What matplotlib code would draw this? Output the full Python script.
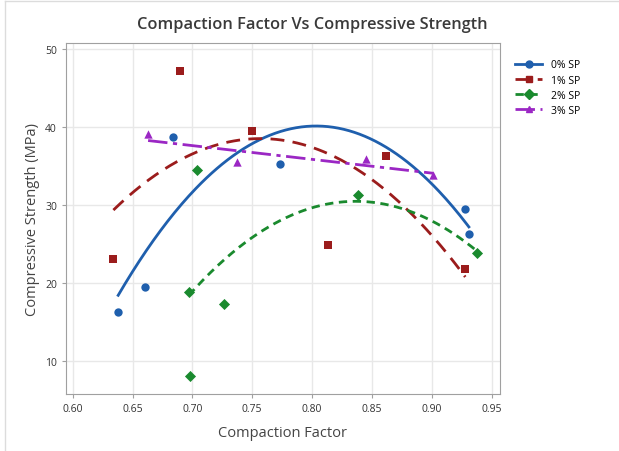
import numpy as np
import matplotlib.pyplot as plt
from matplotlib.lines import Line2D

plt.rcParams['font.family'] = ['Open Sans', 'DejaVu Sans']

# data
cf_0 = [0.638, 0.660, 0.684, 0.773, 0.928, 0.931]
cs_0 = [16.2, 19.5, 38.7, 35.2, 29.4, 26.2]

cf_1 = [0.634, 0.690, 0.750, 0.813, 0.862, 0.928]
cs_1 = [23.0, 47.2, 39.5, 24.8, 36.3, 21.8]

cf_2 = [0.697, 0.698, 0.704, 0.726, 0.838, 0.938]
cs_2 = [18.8, 8.1, 34.5, 17.3, 31.3, 23.8]

cf_3 = [0.663, 0.737, 0.845, 0.901]
cs_3 = [39.0, 35.5, 35.9, 33.8]

labels = ['0% SP', '1% SP', '2% SP', '3% SP']
colors = ['#1f5fad', '#9b1c1c', '#1a8a2e', '#9b27c4']
markers = ['o', 's', 'D', '^']
styles = ['-', (0, (5, 3)), (0, (3, 2)), (0, (7, 2, 1.5, 2))]
degrees = [2, 2, 2, 1]

fig = plt.figure(figsize=(6.19, 4.52), dpi=100)
ax = fig.add_axes([66 / 619, 1 - 395 / 452, 434 / 619, 351 / 452])

series = [(cf_0, cs_0), (cf_1, cs_1), (cf_2, cs_2), (cf_3, cs_3)]
handles = []
for (x, y), lab, c, m, ls, deg in zip(series, labels, colors, markers, styles, degrees):
    x = np.array(x)
    y = np.array(y)
    ax.scatter(x, y, color=c, marker=m, s=36 if m != 'D' else 32, zorder=3, linewidths=0)
    # fitted trend line
    coef = np.polyfit(x, y, deg)
    xs = np.linspace(x.min(), x.max(), 200)
    ax.plot(xs, np.polyval(coef, xs), color=c, linestyle=ls, linewidth=2, zorder=2)
    handles.append(Line2D([], [], color=c, linestyle=ls, linewidth=2, marker=m, markersize=5, label=lab))

ax.set_xlim(0.5944, 0.957)
ax.set_ylim(5.73, 50.73)
ax.set_xticks(np.arange(0.60, 0.951, 0.05))
ax.set_xticklabels(['0.60', '0.65', '0.70', '0.75', '0.80', '0.85', '0.90', '0.95'])
ax.set_yticks([10, 20, 30, 40, 50])
ax.grid(True, color='#e8e8e8', linewidth=1)
ax.set_axisbelow(True)
for s in ax.spines.values():
    s.set_color('#a0a0a0')
ax.tick_params(colors='#a0a0a0', labelcolor='#333333', labelsize=7.5, length=3, width=0.8)

ax.set_xlabel('Compaction Factor', fontsize=10.5, color='#444444', labelpad=8)
ax.set_ylabel('Compressive Strength (MPa)', fontsize=10.5, color='#444444', labelpad=4)
fig.text(0.505, 1 - 25 / 452, 'Compaction Factor Vs Compressive Strength', ha='center', va='center',
         fontsize=11.8, color='#3a3a3a', fontweight='semibold')

fig.legend(handles=handles, loc='upper left', bbox_to_anchor=(506 / 619, 1 - 51 / 452), frameon=False,
           fontsize=7.5, handlelength=2.6, labelspacing=0.4, handletextpad=0.8)

# light frame lines of the screenshot
fig.add_artist(Line2D([5 / 619, 5 / 619], [0, 1 - 2 / 452], color='#dcdcdc', linewidth=1))
fig.add_artist(Line2D([5 / 619, 1], [1 - 2 / 452, 1 - 2 / 452], color='#dcdcdc', linewidth=1))

fig.savefig('out.png', dpi=100)
